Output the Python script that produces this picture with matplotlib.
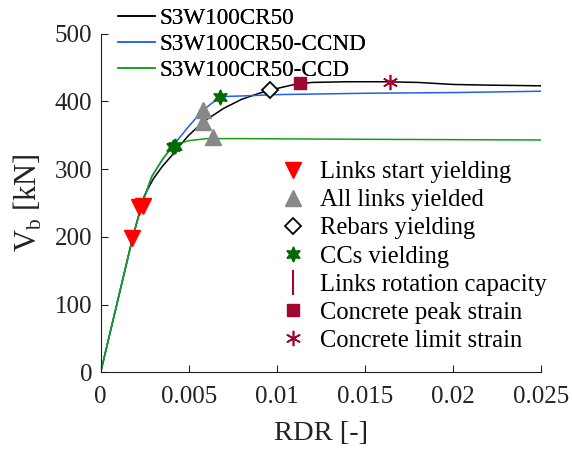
import matplotlib
matplotlib.use("Agg")
import matplotlib.pyplot as plt
from matplotlib.lines import Line2D

plt.rcParams['font.family'] = ['Liberation Serif', 'DejaVu Serif']
plt.rcParams['mathtext.fontset'] = 'custom'
plt.rcParams['mathtext.rm'] = 'Liberation Serif'

# capacity curves (RDR [-], Vb [kN])
rdr_ref = [0, 0.0018, 0.0023, 0.0025, 0.003, 0.0035, 0.004, 0.0045, 0.005, 0.0055, 0.006,
           0.007, 0.008, 0.009, 0.01, 0.011, 0.012, 0.014, 0.016, 0.018, 0.02, 0.022, 0.025]
vb_ref = [0, 197, 245, 262, 286, 304, 319, 335, 350, 362, 373,
          390, 403, 412, 419, 425, 428, 429, 429, 428, 425, 424, 423]

rdr_ccnd = [0, 0.0018, 0.0023, 0.0029, 0.0035, 0.004, 0.0049, 0.0058, 0.0068, 0.008, 0.01, 0.015, 0.02, 0.025]
vb_ccnd = [0, 197, 245, 289, 314, 331, 360, 387, 407, 408, 410, 412, 413, 415]

rdr_ccd = [0, 0.0018, 0.0023, 0.0029, 0.0035, 0.004, 0.0045, 0.005, 0.006, 0.008, 0.015, 0.025]
vb_ccd = [0, 197, 245, 289, 314, 331, 338, 342, 345, 345, 344, 343]

# events
links_start_x = [0.0018, 0.0022, 0.0024]
links_start_y = [198, 244, 246]
links_all_x = [0.0058, 0.0058, 0.0064]
links_all_y = [388, 370, 347]
rebars_x = [0.0096]
rebars_y = [417]
ccs_x = [0.0041, 0.0042, 0.0068]
ccs_y = [332, 334, 407]
peak_x = [0.0113]
peak_y = [427]
limit_x = [0.0164]
limit_y = [429]

fig = plt.figure(figsize=(5.72, 4.49), dpi=100)
ax = fig.add_axes([0.176, 0.171, 0.770, 0.754])

l1, = ax.plot(rdr_ref, vb_ref, color='black', lw=1.1)
l2, = ax.plot(rdr_ccnd, vb_ccnd, color='#1f62e8', lw=1.1)
l3, = ax.plot(rdr_ccd, vb_ccd, color='#14a014', lw=1.1)

crim = '#a0062e'
m1, = ax.plot(links_start_x, links_start_y, 'v', color='#ff0000', ms=11, ls='none')
m2, = ax.plot(links_all_x, links_all_y, '^', color='#888888', ms=11, ls='none')
m3, = ax.plot(rebars_x, rebars_y, 'D', mfc='white', mec='black', mew=1.3, ms=8.5, ls='none')
m4, = ax.plot(ccs_x, ccs_y, marker=(6, 1, 0), color='#006a00', ms=11, ls='none')
m5 = Line2D([], [], marker='|', color=crim, ms=18, mew=1.5, ls='none')
m6, = ax.plot(peak_x, peak_y, 's', color=crim, ms=9, ls='none')
m7, = ax.plot(limit_x, limit_y, marker=(6, 2, 0), color=crim, mew=1.2, ms=11, ls='none')

ax.set_xlim(0, 0.025)
ax.set_ylim(0, 500)
ax.set_xticks([0, 0.005, 0.01, 0.015, 0.02, 0.025])
ax.set_xticklabels(['0', '0.005', '0.01', '0.015', '0.02', '0.025'])
ax.set_yticks([0, 100, 200, 300, 400, 500])
ax.tick_params(direction='in', labelsize=18, colors='#222222', length=5)
ax.tick_params(axis='x', pad=10)
ax.tick_params(axis='y', pad=6)
for s in ['top', 'right']:
    ax.spines[s].set_visible(False)
for s in ['left', 'bottom']:
    ax.spines[s].set_color('#222222')

ax.set_xlabel('RDR [-]', fontsize=20.5, color='#222222', labelpad=9)
ax.set_ylabel(r'V$_\mathrm{b}$ [kN]', fontsize=22, color='#222222', labelpad=8)

leg1 = fig.legend([l1, l2, l3], ['S3W100CR50', 'S3W100CR50-CCND', 'S3W100CR50-CCD'],
                  loc='upper left', bbox_to_anchor=(118 / 572, 1 - 8 / 449), frameon=False,
                  fontsize=16.7, handlelength=1.6, handletextpad=0.2, borderpad=0,
                  borderaxespad=0, labelspacing=0.2)
ax.add_artist(leg1)

leg2 = ax.legend([m1, m2, m3, m4, m5, m6, m7],
                 ['Links start yielding', 'All links yielded', 'Rebars yielding', 'CCs vielding',
                  'Links rotation capacity', 'Concrete peak strain', 'Concrete limit strain'],
                 loc='upper left', bbox_to_anchor=(281 / 572, 1 - 161 / 449),
                 bbox_transform=fig.transFigure, frameon=False, fontsize=17.7,
                 handlelength=1.0, handletextpad=0.6, borderpad=0, borderaxespad=0,
                 labelspacing=0.24)

fig.savefig('out.png', dpi=100)
